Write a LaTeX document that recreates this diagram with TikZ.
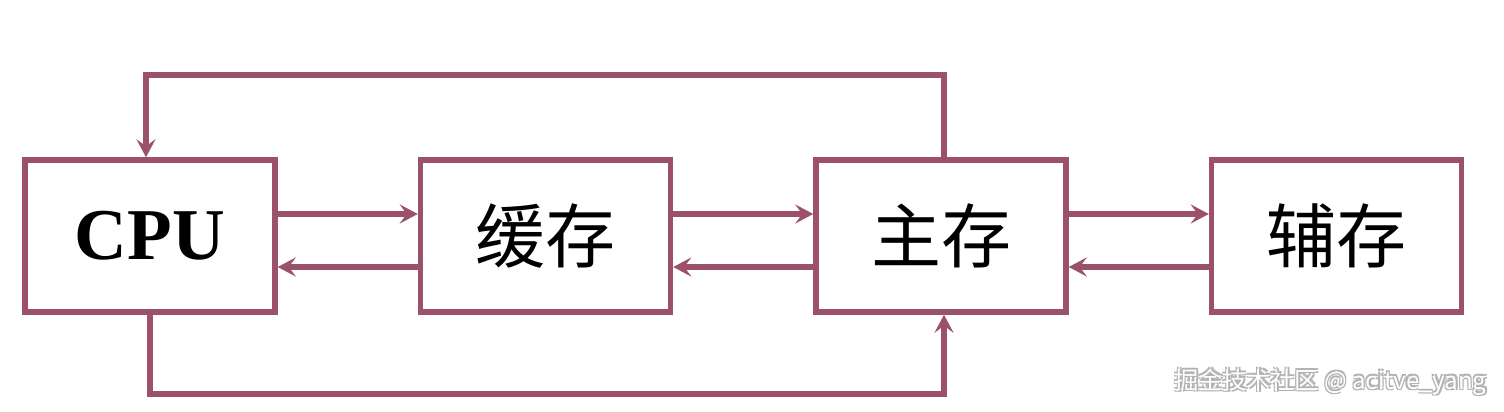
\documentclass[tikz,border=0pt]{standalone}
\usepackage{fontspec}
\setmainfont{Liberation Serif}
\newfontfamily\cjk{Noto Sans CJK SC}
\usetikzlibrary{arrows.meta}
\definecolor{mauve}{RGB}{155,82,105}
\begin{document}
\begin{tikzpicture}[x=1pt,y=-1pt,
  box/.style={draw=mauve,line width=5.5pt,minimum width=250pt,minimum height=152pt,inner sep=0pt,fill=white},
  conn/.style={draw=mauve,line width=5.5pt,-{Stealth[length=18pt,width=19pt,inset=7pt]}},
  lbl/.style={font=\cjk\fontsize{70}{70}\selectfont},
  wmark/.style={font=\cjk\fontsize{24}{24}\selectfont,anchor=east}]
\useasboundingbox (0,0) rectangle (1504,412);
\fill[white] (0,0) rectangle (1504,412);
\node[box,font=\fontsize{73}{73}\selectfont\bfseries] (cpu) at (150,236) {CPU};
\node[box,lbl] (cache) at (545.5,236) {缓存};
\node[box,lbl] (main) at (941,236) {主存};
\node[box,lbl] (aux) at (1336.5,236) {辅存};
% horizontal arrows
\draw[conn] ([yshift=22pt]cpu.east) -- ([yshift=22pt]cache.west);
\draw[conn] ([yshift=-31pt]cache.west) -- ([yshift=-31pt]cpu.east);
\draw[conn] ([yshift=22pt]cache.east) -- ([yshift=22pt]main.west);
\draw[conn] ([yshift=-31pt]main.west) -- ([yshift=-31pt]cache.east);
\draw[conn] ([yshift=22pt]main.east) -- ([yshift=22pt]aux.west);
\draw[conn] ([yshift=-31pt]aux.west) -- ([yshift=-31pt]main.east);
% loops
\draw[conn] ([xshift=3pt]main.north) -- ++(0,-82) -| ([xshift=-4pt]cpu.north);
\draw[conn] (cpu.south) -- ++(0,79) -| ([xshift=3pt]main.south);
% watermark
\node[wmark,text=gray!60] (wms1) at (1491.2,383.2) {掘金技术社区 @ acitve\_yang};
\node[wmark,text=gray!60] (wms2) at (1488.8,380.8) {掘金技术社区 @ acitve\_yang};
\node[wmark,text=gray!60] (wms3) at (1491.2,380.8) {掘金技术社区 @ acitve\_yang};
\node[wmark,text=gray!60] (wms4) at (1488.8,383.2) {掘金技术社区 @ acitve\_yang};
\node[wmark,text=white] (wm) at (1490,382) {掘金技术社区 @ acitve\_yang};
\end{tikzpicture}
\end{document}
